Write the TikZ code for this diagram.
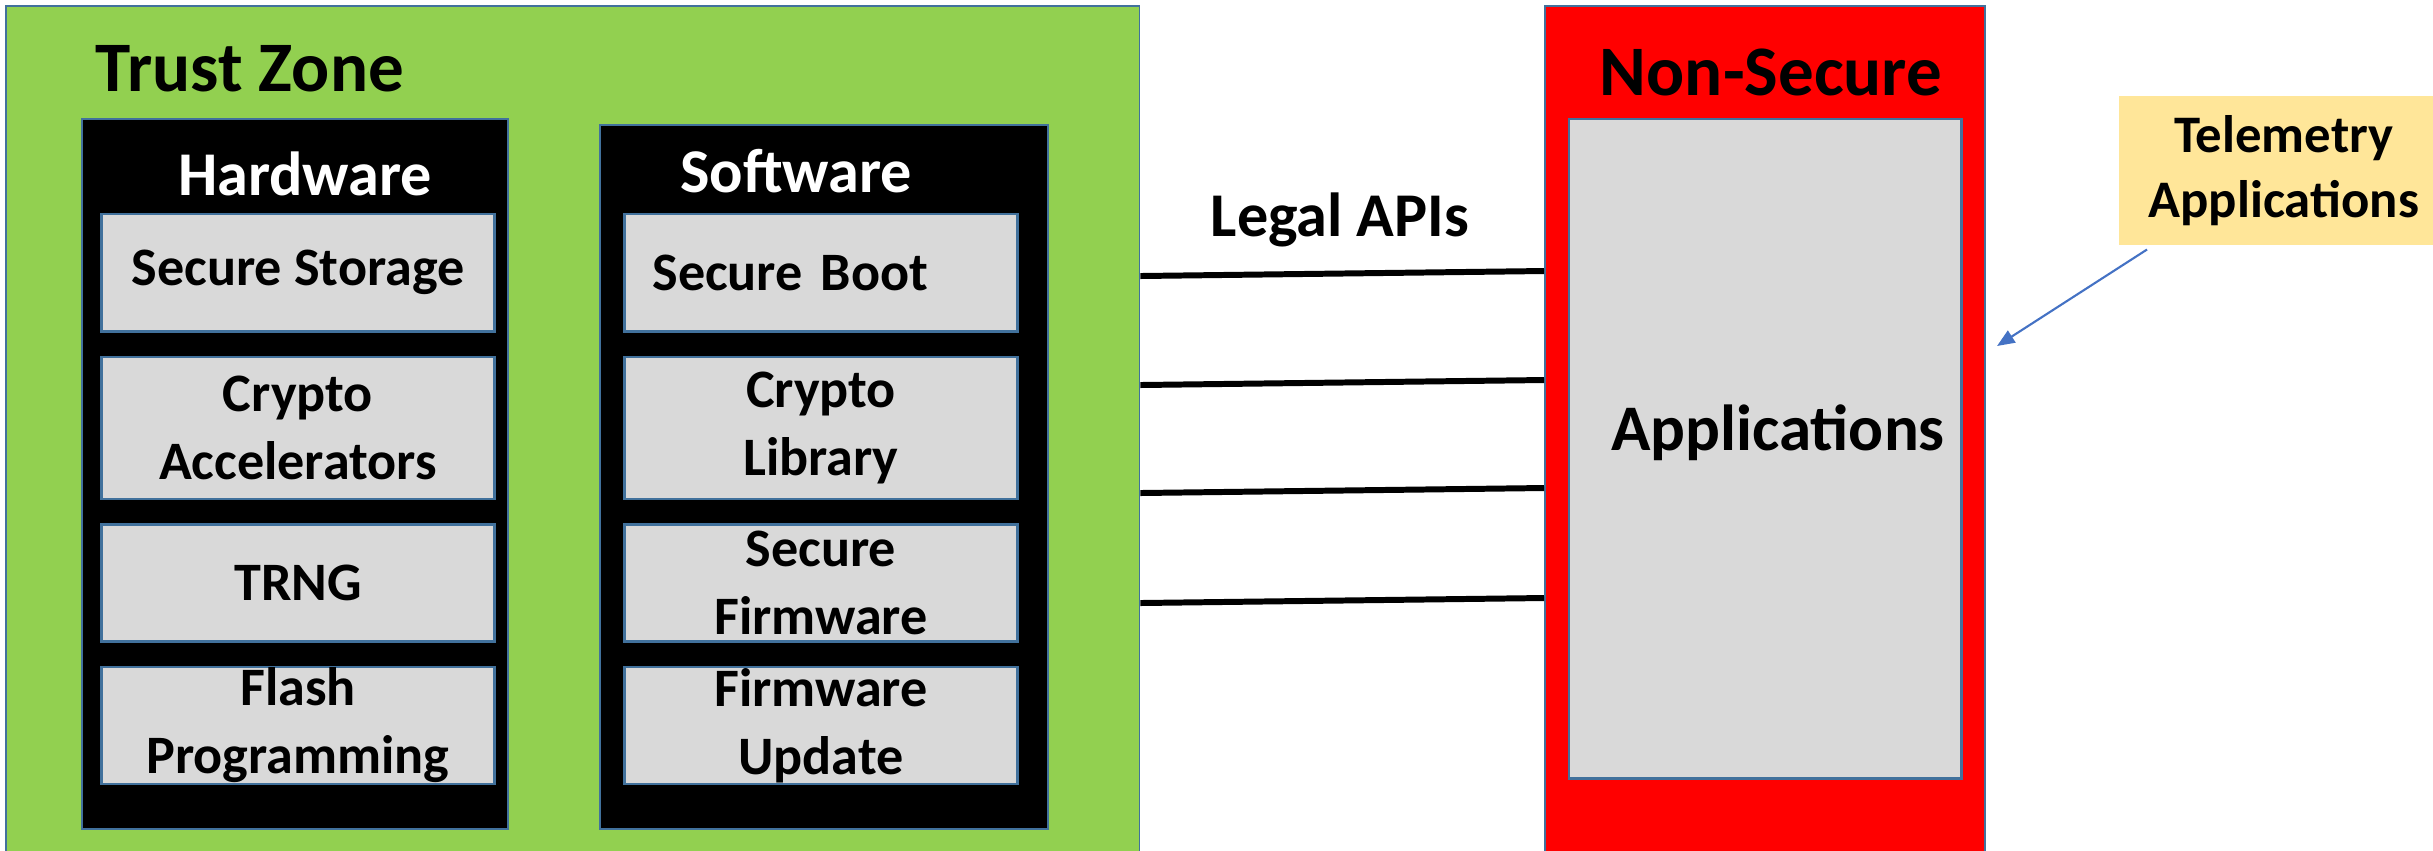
\documentclass[tikz,border=0pt]{standalone}
\usepackage{fontspec}
\setmainfont{Carlito}
\usetikzlibrary{arrows.meta, positioning}
\definecolor{zonegreen}{RGB}{146,208,80}
\definecolor{zonered}{RGB}{255,0,0}
\definecolor{cellgray}{RGB}{217,217,217}
\definecolor{edgeblue}{RGB}{65,113,156}
\definecolor{notegold}{RGB}{255,230,153}
\definecolor{pointblue}{RGB}{68,114,196}

\begin{document}
\begin{tikzpicture}[x=0.01cm, y=-0.01cm,
  zone/.style={rectangle, draw=edgeblue, line width=0.5pt, fill=#1, inner sep=0pt, anchor=north west},
  cell/.style={rectangle, draw=edgeblue, line width=0.7pt, fill=cellgray, minimum width=3.93cm,
    minimum height=#1, inner sep=0pt, align=center, font=\fontsize{15.4}{19.3}\selectfont\bfseries},
  cell/.default=1.17cm,
  heading/.style={font=\fontsize{#1}{#1}\selectfont\bfseries, inner sep=0pt, anchor=base},
  api/.style={line width=1.7pt, black},
  arrow/.style={-{Triangle[length=5pt, width=4pt]}, line width=0.6pt, pointblue}
]
\useasboundingbox (0,0) rectangle (2433,850);

% secure and non-secure worlds
\node[zone=zonegreen, minimum width=11.33cm, minimum height=8.6cm] (trust) at (5,5) {};
\node[zone=zonered, minimum width=4.40cm, minimum height=8.6cm] (nonsec) at (1544,5) {};
\node[heading=20.2, anchor=base west] (trustlbl) at (95,91) {Trust Zone};
\node[heading=20.2] (nonseclbl) at (1771,95) {Non-Secure};

% hardware column
\node[zone=black, minimum width=4.26cm, minimum height=7.10cm] (hw) at (81,118) {};
\node[heading=17.7, text=white] (hwlbl) at (305,195) {Hardware};
\node[cell, anchor=north] (storage) at (298,213) {Secure Storage};
\node[cell=1.42cm, below=0.23cm of storage] (accel) {Crypto\\Accelerators};
\node[cell, below=0.23cm of accel] (trng) {TRNG};
\node[cell, below=0.23cm of trng] (flash) {Flash\\Programming};

% software column
\node[zone=black, minimum width=4.48cm, minimum height=7.04cm] (sw) at (599,124) {};
\node[heading=17.7, text=white] (swlbl) at (796,192) {Software};
\node[cell, anchor=north, text width=3.37cm, align=left] (boot) at (821,213) {Secure Boot};
\node[cell=1.42cm, below=0.23cm of boot] (cryptolib) {Crypto\\Library};
\node[cell, below=0.23cm of cryptolib] (firmware) {Secure\\Firmware};
\node[cell, below=0.23cm of firmware] (update) {Firmware\\Update};

% application area
\node[rectangle, draw=edgeblue, line width=0.7pt, fill=cellgray, anchor=north west,
  minimum width=3.92cm, minimum height=6.59cm, inner sep=0pt] (apps) at (1568,118) {};
\node[heading=18.5] (appslbl) at (1778,450) {Applications};

% legal API links
\node[heading=17.7] (apilbl) at (1340,236) {Legal APIs};
\foreach \y in {276,385,493,603}
  \draw[api] (trust.east |- 0,\y) -- (nonsec.west |- 0,\y-5);

% telemetry note
\node[rectangle, fill=notegold, anchor=north west, minimum width=3.3cm, minimum height=1.49cm,
  inner sep=0pt, align=center, font=\fontsize{15}{18.5}\selectfont\bfseries] (note) at (2118,95)
  {Telemetry\\Applications};
\coordinate (tip) at (1997,346);
\draw[arrow] ([xshift=0.29cm, yshift=-0.04cm]note.south west) -- (tip);
\end{tikzpicture}
\end{document}
